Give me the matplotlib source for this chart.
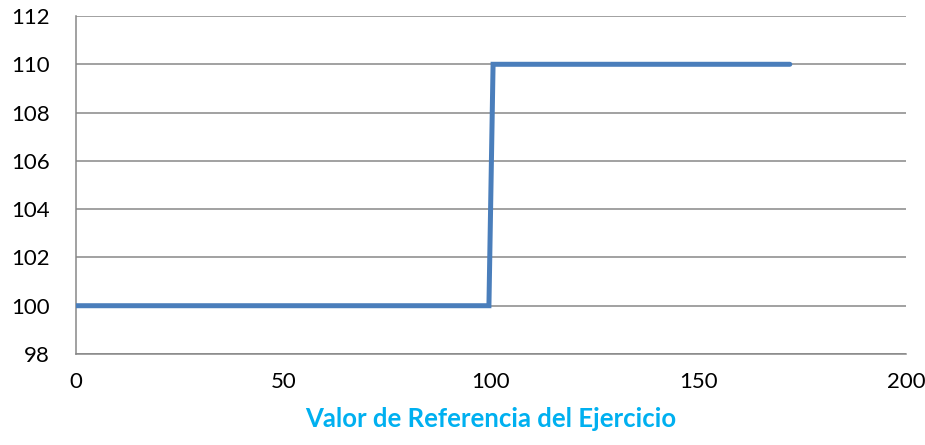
import matplotlib
matplotlib.use("Agg")
import matplotlib.pyplot as plt

x_vals = [0, 99.5, 100.5, 172]
y_vals = [100, 100, 110, 110]
x_ticks = [0, 50, 100, 150, 200]
y_ticks = [98, 100, 102, 104, 106, 108, 110, 112]
x_label = "Valor de Referencia del Ejercicio"

plt.rcParams['font.family'] = ['Lato', 'DejaVu Sans']

fig = plt.figure(figsize=(9.25, 4.45), dpi=100)
ax = fig.add_axes([76/925, 91/445, 830/925, 338/445])

ax.plot(x_vals, y_vals, color='#4A7EBB', linewidth=3.6, solid_joinstyle='miter', solid_capstyle='round', zorder=3)

ax.set_xlim(0, 200)
ax.set_ylim(98, 112)
ax.set_xticks(x_ticks)
ax.set_yticks(y_ticks)
ax.tick_params(axis='both', length=0, labelsize=16, colors='black')
ax.tick_params(axis='y', pad=19)
ax.tick_params(axis='x', pad=13)

ax.grid(axis='y', color='#878787', linewidth=1.1)
ax.set_axisbelow(True)
for s in ['top', 'right']:
    ax.spines[s].set_visible(False)
for s in ['left', 'bottom']:
    ax.spines[s].set_color('#878787')
    ax.spines[s].set_linewidth(1.1)

ax.set_xlabel(x_label, fontsize=18.5, fontweight='bold', color='#00B0F0', labelpad=11)

fig.savefig("out.png", dpi=100)
